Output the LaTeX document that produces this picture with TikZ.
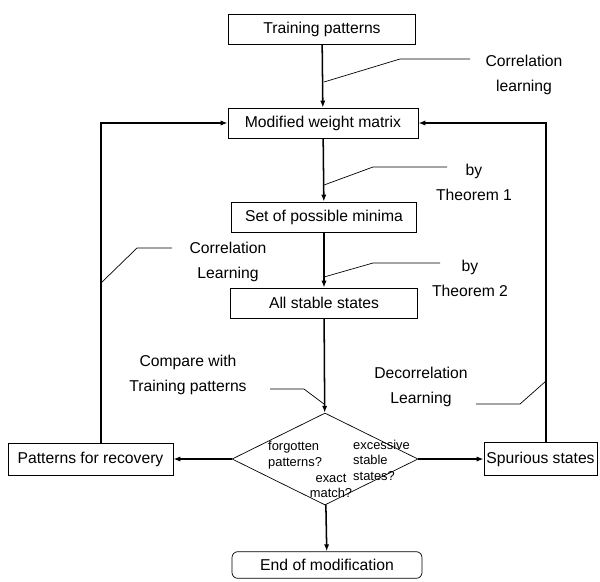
\documentclass[tikz,border=0pt]{standalone}
\usepackage{fontspec}
\setmainfont{Liberation Sans}
\usetikzlibrary{shapes.geometric,arrows.meta}

\begin{document}
\begin{tikzpicture}[x=0.03cm,y=-0.03cm,
  box/.style={draw,line width=0.6pt,inner sep=2pt,minimum height=0.9cm,font=\fontsize{13.4}{16}\selectfont},
  flow/.style={line width=1.3pt,-{Latex[length=6pt,width=4.5pt]}},
  lead/.style={line width=0.6pt},
  lbl/.style={align=center,inner sep=0pt,font=\fontsize{13.4}{21.3}\selectfont},
  qtxt/.style={inner sep=0pt,font=\fontsize{11}{13.3}\selectfont}]
\useasboundingbox (0,0) rectangle (600,581);

% main column
\node[box,minimum width=5.61cm] (train) at (322,29) {Training patterns};
\node[box,minimum width=5.7cm] (mod) at (323,123) {Modified weight matrix};
\node[box,minimum width=5.55cm] (setmin) at (324,217) {Set of possible minima};
\node[box,minimum width=5.6cm] (stable) at (324,303) {All stable states};
\node[draw,line width=0.6pt,diamond,minimum width=5.58cm,minimum height=2.76cm,inner sep=0pt] (dia) at (325,459) {};
\node[box,rounded corners=5pt,minimum width=5.7cm,minimum height=0.8cm] (endm) at (327,565) {End of modification};
\node[box,minimum width=4.95cm,minimum height=0.96cm] (recov) at (90.5,459) {Patterns for recovery};
\node[box,minimum width=3.39cm,minimum height=1.0cm] (spur) at (540.5,459) {Spurious states};

% questions in the diamond
\node[qtxt,align=left,anchor=west] (qforg) at (268,455) {forgotten\\patterns?};
\node[qtxt,align=left,anchor=west] (qexc) at (353,460) {excessive\\stable\\states?};
\node[qtxt,align=center] (qexact) at (331,486) {exact\\match?};

% labels
\node[lbl] (lcorr) at (524,75) {Correlation\\learning};
\node[lbl] (lthm1) at (474,182) {by\\Theorem 1};
\node[lbl] (lthm2) at (470,278) {by\\Theorem 2};
\node[lbl] (lcorrb) at (228,262) {Correlation\\Learning};
\node[lbl] (lcomp) at (188,375) {Compare with\\Training patterns};
\node[lbl] (ldecor) at (421,387) {Decorrelation\\Learning};

% bends of the feedback loops
\coordinate (lbend) at (101,123);
\coordinate (rbend) at (546,123);

% flow
\draw[flow] (train) -- (mod);
\draw[flow] (mod) -- (setmin);
\draw[flow] (setmin) -- (stable);
\draw[flow] (stable) -- (dia);
\draw[flow] (dia) -- (endm);
\draw[flow] (dia.west) -- (recov.east);
\draw[flow] (dia.east) -- (spur.west);
\draw[flow] (recov.north -| lbend) -- (lbend) -- (mod.west);
\draw[flow] (spur.north -| rbend) -- (rbend) -- (mod.east);

% leader lines
\coordinate (c1) at (324,82);
\coordinate (c2) at (324,185);
\coordinate (c3) at (324,277);
\coordinate (c4) at (101,283);
\coordinate (c5) at (324,404);
\coordinate (c6) at (546,381);
\draw[lead] (c1) -- (400,59) -- (470,59);
\draw[lead] (c2) -- (373,167) -- (447,167);
\draw[lead] (c3) -- (373,263) -- (440,263);
\draw[lead] (c4) -- (137,248) -- (172,248);
\draw[lead] (c5) -- (304,389) -- (270,389);
\draw[lead] (c6) -- (520,404) -- (476,404);
\end{tikzpicture}
\end{document}
